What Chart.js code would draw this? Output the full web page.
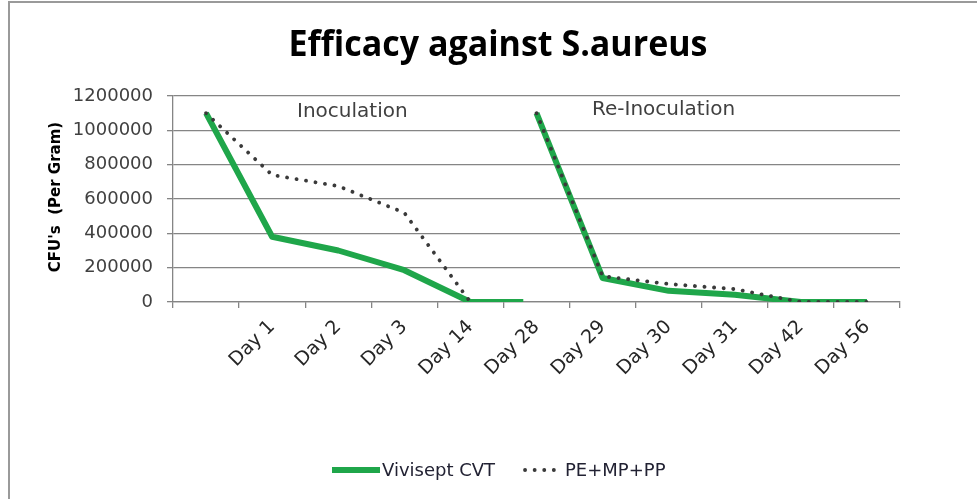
<!DOCTYPE html>
<html>
<head>
<meta charset="utf-8">
<script src="https://cdn.jsdelivr.net/npm/chart.js@4/dist/chart.umd.min.js"></script>
<style>
  html, body { margin: 0; padding: 0; background: #ffffff; }
  #wrap { width: 977px; height: 499px; position: relative; }
</style>
</head>
<body>
<div id="wrap"><canvas id="c" width="977" height="499"></canvas></div>
<script>
// ---- data ----
const chartTitle = 'Efficacy against S.aureus';
const yAxisTitle = "CFU's  (Per Gram)";
const categories = ['', 'Day 1', 'Day 2', 'Day 3', 'Day 14', 'Day 28', 'Day 29', 'Day 30', 'Day 31', 'Day 42', 'Day 56'];
const yTicks = [0, 200000, 400000, 600000, 800000, 1000000, 1200000];
const phaseLabels = ['Inoculation', 'Re-Inoculation'];
const seriesNames = ['Vivisept CVT', 'PE+MP+PP'];

// category positions (index into categories) of each phase
const viviseptInocPos = [0, 1, 2, 3, 4, 4.8];
const viviseptInoc = [1100000, 380000, 300000, 185000, 0, 0];
const viviseptReinocPos = [5, 6, 7, 8, 9, 10];
const viviseptReinoc = [1100000, 140000, 65000, 42000, 0, 0];

const peInocPos = [0, 1, 2, 3, 4];
const peInoc = [1100000, 740000, 675000, 520000, 0];
const peReinocPos = [5, 6, 7, 8, 9, 10];
const peReinoc = [1100000, 150000, 105000, 75000, 0, 0];

// ---- build ----
const pts = (xs, ys) => xs.map((x, i) => ({ x: x, y: ys[i] }));
const GREEN = '#1fa64a';
const DOT = '#3a3a3a';
const FONT = '"DejaVu Sans", sans-serif';

Chart.defaults.font.family = FONT;
Chart.defaults.color = '#333333';

const greenStyle = { borderColor: GREEN, borderWidth: 6, pointRadius: 0, tension: 0, fill: false,
  borderCapStyle: 'butt', borderJoinStyle: 'round', xAxisID: 'xv', yAxisID: 'y', order: 2 };
const dotStyle = { borderColor: DOT, borderWidth: 3.8, borderDash: [0.1, 9.5], borderCapStyle: 'round',
  pointRadius: 0, tension: 0, fill: false, xAxisID: 'xv', yAxisID: 'y', order: 1 };

const decorations = {
  id: 'decorations',
  beforeDraw(chart) {
    const ctx = chart.ctx;
    ctx.save();
    ctx.fillStyle = '#ffffff';
    ctx.fillRect(0, 0, chart.width, chart.height);
    // outer frame (top and left visible)
    ctx.strokeStyle = '#9a9a9a';
    ctx.lineWidth = 2;
    ctx.beginPath();
    ctx.moveTo(9, chart.height);
    ctx.lineTo(9, 2);
    ctx.lineTo(chart.width, 2);
    ctx.stroke();
    ctx.restore();
  },
  afterDraw(chart) {
    const ctx = chart.ctx;
    const area = chart.chartArea;
    ctx.save();
    // title
    ctx.fillStyle = '#000000';
    ctx.font = 'bold 35px "Open Sans", sans-serif';
    ctx.textBaseline = 'middle';
    ctx.textAlign = 'center';
    const w = ctx.measureText(chartTitle).width;
    const sx = 419 / w;
    ctx.translate(498, 46);
    ctx.scale(sx, 1);
    ctx.fillText(chartTitle, 0, 0);
    ctx.restore();

    // y axis title
    ctx.save();
    ctx.fillStyle = '#000000';
    ctx.font = 'bold 15px ' + FONT;
    ctx.textAlign = 'center';
    ctx.textBaseline = 'middle';
    ctx.translate(56, 197);
    ctx.rotate(-Math.PI / 2);
    ctx.fillText(yAxisTitle, 0, 0);
    ctx.restore();

    // phase labels
    ctx.save();
    ctx.fillStyle = '#404040';
    ctx.font = '20px ' + FONT;
    ctx.textAlign = 'left';
    ctx.textBaseline = 'middle';
    ctx.fillText(phaseLabels[0], 297, 112);
    ctx.fillText(phaseLabels[1], 592, 110);
    ctx.restore();

    // legend
    ctx.save();
    const ly = 470;
    ctx.strokeStyle = GREEN;
    ctx.lineWidth = 6;
    ctx.lineCap = 'butt';
    ctx.beginPath(); ctx.moveTo(332, ly); ctx.lineTo(380, ly); ctx.stroke();
    ctx.strokeStyle = DOT;
    ctx.lineWidth = 3.8;
    ctx.lineCap = 'round';
    ctx.setLineDash([0.1, 9.5]);
    ctx.beginPath(); ctx.moveTo(525, ly); ctx.lineTo(562, ly); ctx.stroke();
    ctx.setLineDash([]);
    ctx.fillStyle = '#222233';
    ctx.font = '18px ' + FONT;
    ctx.textAlign = 'left';
    ctx.textBaseline = 'middle';
    ctx.fillText(seriesNames[0], 382, ly + 1);
    ctx.fillText(seriesNames[1], 565, ly + 1);
    ctx.restore();
  }
};

new Chart(document.getElementById('c'), {
  type: 'line',
  data: {
    labels: categories,
    datasets: [
      Object.assign({ label: seriesNames[1], data: pts(peInocPos, peInoc) }, dotStyle),
      Object.assign({ label: seriesNames[1] + ' re', data: pts(peReinocPos, peReinoc) }, dotStyle),
      Object.assign({ label: seriesNames[0], data: pts(viviseptInocPos, viviseptInoc) }, greenStyle),
      Object.assign({ label: seriesNames[0] + ' re', data: pts(viviseptReinocPos, viviseptReinoc) }, greenStyle)
    ]
  },
  options: {
    responsive: false,
    animation: false,
    layout: { padding: { top: 96, right: 77, bottom: 0, left: 0 } },
    plugins: { legend: { display: false }, tooltip: { enabled: false }, title: { display: false } },
    scales: {
      x: {
        type: 'category',
        position: 'bottom',
        offset: true,
        afterFit(s) { s.height = 197; },
        grid: { offset: true, drawOnChartArea: false, drawTicks: true, tickLength: 6, color: '#858585', lineWidth: 1.3 },
        border: { color: '#858585', width: 1.3 },
        ticks: { autoSkip: false, minRotation: 45, maxRotation: 45, padding: 8, color: '#262626', font: { size: 19 } }
      },
      xv: {
        type: 'linear',
        display: false,
        min: -0.5,
        max: 10.5
      },
      y: {
        type: 'linear',
        min: yTicks[0],
        max: yTicks[yTicks.length - 1],
        afterFit(s) { s.width = 173; },
        afterBuildTicks(s) { s.ticks = yTicks.map(v => ({ value: v })); },
        grid: { color: '#858585', lineWidth: 1.3, drawTicks: true, tickLength: 6 },
        border: { color: '#858585', width: 1.3 },
        ticks: { padding: 14, color: '#404040', font: { size: 18 }, callback: v => String(v) }
      }
    }
  },
  plugins: [decorations]
});
</script>
</body>
</html>
